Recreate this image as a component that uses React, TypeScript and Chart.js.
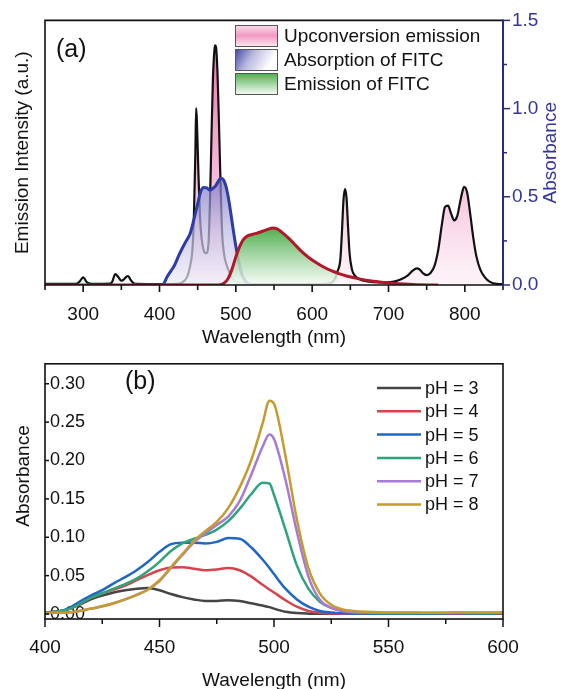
import React, { useEffect, useRef } from 'react';
import { Chart, registerables } from 'chart.js';

Chart.register(...registerables);

const FONT = "'Liberation Sans', Arial, Helvetica, sans-serif";
const NAVY = '#2a2a85';
const NAVY_TEXT = '#34349a';

// ---------------- Panel (a) data ----------------
const emissionWavelength = [250, 290, 295, 300, 305, 312, 335, 338, 342, 346, 350, 353, 356, 359, 362, 366, 372, 400, 420, 430, 436, 440, 443, 445, 447, 448, 449, 451, 453, 455, 458, 461, 464, 466, 468, 470, 472, 473, 474, 476, 478, 480, 482, 485, 488, 492, 496, 500, 510, 540, 600, 620, 628, 633, 637, 639, 641, 643, 645, 647, 649, 652, 656, 662, 672, 690, 705, 715, 725, 732, 737, 741, 745, 750, 755, 760, 765, 770, 774, 778, 782, 786, 790, 795, 799, 803, 807, 811, 815, 820, 826, 833, 842, 850];
const emissionIntensity = [0.004, 0.004, 0.012, 0.029, 0.01, 0.004, 0.005, 0.012, 0.041, 0.03, 0.016, 0.02, 0.03, 0.034, 0.02, 0.007, 0.004, 0.003, 0.004, 0.01, 0.03, 0.07, 0.13, 0.25, 0.5, 0.669, 0.62, 0.42, 0.26, 0.18, 0.13, 0.12, 0.15, 0.3, 0.55, 0.78, 0.89, 0.906, 0.9, 0.8, 0.6, 0.38, 0.2, 0.11, 0.075, 0.045, 0.025, 0.012, 0.005, 0.003, 0.003, 0.005, 0.015, 0.05, 0.1, 0.2, 0.32, 0.3625, 0.33, 0.22, 0.12, 0.06, 0.035, 0.022, 0.014, 0.01, 0.012, 0.02, 0.035, 0.055, 0.0625, 0.058, 0.045, 0.0375, 0.045, 0.07, 0.13, 0.23, 0.295, 0.3, 0.27, 0.244, 0.26, 0.33, 0.371, 0.35, 0.27, 0.18, 0.11, 0.06, 0.03, 0.012, 0.004, 0.003];

const absorptionWavelength = [365, 400, 405, 410, 415, 420, 425, 430, 435, 440, 445, 450, 454, 458, 462, 466, 470, 474, 478, 481, 484, 487, 490, 493, 496, 500, 504, 508, 512, 516, 520, 560, 625];
const absorptionFITC = [0, 0, 0.005, 0.047, 0.08, 0.115, 0.165, 0.21, 0.25, 0.29, 0.37, 0.46, 0.53, 0.553, 0.55, 0.538, 0.548, 0.565, 0.595, 0.605, 0.595, 0.56, 0.5, 0.42, 0.33, 0.22, 0.13, 0.06, 0.025, 0.008, 0.002, 0, 0];

const fitcEmissionWavelength = [250, 478, 485, 490, 495, 500, 505, 510, 515, 520, 527, 535, 542, 548, 554, 560, 568, 576, 585, 595, 605, 615, 625, 635, 645, 660, 680, 700, 720, 740, 765];
const fitcEmission = [0, 0, 0.008, 0.025, 0.06, 0.106, 0.145, 0.172, 0.185, 0.19, 0.195, 0.203, 0.21, 0.215, 0.212, 0.2, 0.18, 0.157, 0.13, 0.105, 0.085, 0.068, 0.054, 0.043, 0.034, 0.024, 0.014, 0.008, 0.004, 0.001, 0];
const GREEN_FILL_START = 478;
const GREEN_FILL_END = 635;

const panelAXLabels = [300, 400, 500, 600, 700, 800];
const panelALegend = ['Upconversion emission', 'Absorption of FITC', 'Emission of FITC'];

// ---------------- Panel (b) data ----------------
const phWavelength = [400, 405, 410, 415, 420, 425, 430, 435, 440, 445, 450, 455, 460, 465, 470, 475, 480, 485, 490, 495, 498, 500, 505, 510, 515, 520, 525, 530, 535, 540, 550, 560, 570, 580, 590, 600];
const absPH3 = [0.002, 0.003, 0.006, 0.012, 0.019, 0.024, 0.028, 0.031, 0.033, 0.034, 0.031, 0.026, 0.022, 0.019, 0.017, 0.017, 0.018, 0.017, 0.014, 0.011, 0.009, 0.007, 0.003, 0.0012, 0.0005, 0.0003, 0.0003, 0.0003, 0.0003, 0.0003, 0.0005, 0.0005, 0.0003, 0.0005, 0.0003, 0.0005];
const absPH4 = [0.002, 0.003, 0.006, 0.013, 0.021, 0.027, 0.032, 0.037, 0.044, 0.051, 0.057, 0.0605, 0.061, 0.059, 0.057, 0.058, 0.06, 0.057, 0.049, 0.038, 0.032, 0.028, 0.018, 0.0095, 0.004, 0.0015, 0.0007, 0.0005, 0.0005, 0.0005, 0.0006, 0.0005, 0.0006, 0.0005, 0.0006, 0.0005];
const absPH5 = [0.002, 0.003, 0.007, 0.016, 0.024, 0.031, 0.04, 0.048, 0.057, 0.068, 0.081, 0.091, 0.093, 0.093, 0.092, 0.094, 0.099, 0.098, 0.087, 0.071, 0.06, 0.052, 0.033, 0.019, 0.0095, 0.004, 0.002, 0.001, 0.0008, 0.0008, 0.0008, 0.0008, 0.0008, 0.001, 0.0008, 0.001];
const absPH6 = [0.002, 0.003, 0.006, 0.013, 0.021, 0.027, 0.033, 0.039, 0.046, 0.056, 0.068, 0.082, 0.092, 0.098, 0.103, 0.11, 0.121, 0.137, 0.156, 0.171, 0.17, 0.155, 0.11, 0.063, 0.033, 0.016, 0.008, 0.004, 0.002, 0.0015, 0.001, 0.001, 0.001, 0.0015, 0.001, 0.0015];
const absPH7 = [0.001, 0.0015, 0.002, 0.004, 0.007, 0.01, 0.014, 0.019, 0.025, 0.032, 0.043, 0.06, 0.077, 0.093, 0.105, 0.116, 0.127, 0.147, 0.181, 0.218, 0.234, 0.228, 0.175, 0.107, 0.049, 0.0185, 0.008, 0.004, 0.0025, 0.002, 0.0015, 0.0015, 0.0015, 0.002, 0.0015, 0.002];
const absPH8 = [0.001, 0.0015, 0.002, 0.004, 0.007, 0.01, 0.014, 0.019, 0.025, 0.032, 0.044, 0.061, 0.078, 0.095, 0.108, 0.12, 0.138, 0.165, 0.2, 0.248, 0.278, 0.274, 0.206, 0.123, 0.06, 0.027, 0.012, 0.006, 0.004, 0.003, 0.002, 0.002, 0.0015, 0.002, 0.002, 0.002];
const phSeries = [absPH3, absPH4, absPH5, absPH6, absPH7, absPH8];
const phLabels = ['pH = 3', 'pH = 4', 'pH = 5', 'pH = 6', 'pH = 7', 'pH = 8'];
const panelBXLabels = [400, 450, 500, 550, 600];

const PH_COLORS = ['#454545', '#d6434b', '#1f67c6', '#2fa47b', '#a57bd6', '#c49b2c'];

const toPoints = (xs: number[], ys: number[]) => xs.map((x, i) => ({ x, y: ys[i] }));

function line(ctx: CanvasRenderingContext2D, x1: number, y1: number, x2: number, y2: number) {
  ctx.beginPath();
  ctx.moveTo(x1, y1);
  ctx.lineTo(x2, y2);
  ctx.stroke();
}

// ---------------- Panel (a) ----------------
const pinkFill = (c: any) => {
  const chart = c.chart;
  const a = chart.chartArea;
  if (!a) return 'rgba(240,160,200,0.5)';
  const g = chart.ctx.createLinearGradient(0, a.top, 0, a.bottom);
  g.addColorStop(0, 'rgba(234,90,155,0.92)');
  g.addColorStop(0.55, 'rgba(243,165,203,0.82)');
  g.addColorStop(1, 'rgba(253,238,246,0.6)');
  return g;
};
const blueFill = (c: any) => {
  const chart = c.chart;
  const a = chart.chartArea;
  if (!a || !chart.scales.y2) return 'rgba(150,150,210,0.6)';
  const top = chart.scales.y2.getPixelForValue(0.62);
  const g = chart.ctx.createLinearGradient(0, top, 0, a.bottom);
  g.addColorStop(0, 'rgba(118,112,195,0.72)');
  g.addColorStop(0.5, 'rgba(190,185,225,0.7)');
  g.addColorStop(1, 'rgba(240,238,249,0.7)');
  return g;
};
const greenFill = (c: any) => {
  const chart = c.chart;
  const a = chart.chartArea;
  if (!a || !chart.scales.y) return 'rgba(120,200,120,0.7)';
  const top = chart.scales.y.getPixelForValue(0.22);
  const g = chart.ctx.createLinearGradient(0, top, 0, a.bottom);
  g.addColorStop(0, 'rgba(66,170,66,0.95)');
  g.addColorStop(0.55, 'rgba(165,214,165,0.88)');
  g.addColorStop(1, 'rgba(246,251,246,0.85)');
  return g;
};

const panelAPlugin = {
  id: 'panelADecor',
  afterDatasetsDraw(chart: any) {
    const { ctx, chartArea: a, scales } = chart;
    ctx.save();
    // frame
    ctx.strokeStyle = '#111';
    ctx.lineWidth = 1.6;
    ctx.beginPath();
    ctx.moveTo(a.right, a.top);
    ctx.lineTo(a.left, a.top);
    ctx.lineTo(a.left, a.bottom);
    ctx.lineTo(a.right, a.bottom);
    ctx.stroke();
    // bottom ticks (outward)
    for (let v = scales.x.min; v <= scales.x.max; v += 50) {
      const px = scales.x.getPixelForValue(v);
      line(ctx, px, a.bottom, px, a.bottom + (v % 100 === 0 ? 7 : 5));
    }
    // right axis
    ctx.strokeStyle = NAVY;
    ctx.lineWidth = 2;
    line(ctx, a.right, a.top - 1, a.right, a.bottom + 1);
    ctx.lineWidth = 1.5;
    for (let v = 0; v <= 1.5001; v += 0.25) {
      const py = scales.y2.getPixelForValue(v);
      const major = Math.abs(v / 0.5 - Math.round(v / 0.5)) < 1e-6;
      line(ctx, a.right, py, a.right + (major ? 7 : 4), py);
    }
    // right title
    ctx.save();
    ctx.translate(551, (a.top + a.bottom) / 2);
    ctx.rotate(-Math.PI / 2);
    ctx.fillStyle = NAVY_TEXT;
    ctx.font = `19px ${FONT}`;
    ctx.textAlign = 'center';
    ctx.textBaseline = 'middle';
    ctx.fillText('Absorbance', 0, 0);
    ctx.restore();
    // (a)
    ctx.fillStyle = '#111';
    ctx.font = `25px ${FONT}`;
    ctx.textAlign = 'left';
    ctx.textBaseline = 'middle';
    ctx.fillText('(a)', 56, 50);
    // legend
    const bx = 235, bw = 42, bh = 21;
    const rows = [25, 49, 73];
    rows.forEach((ry, i) => {
      let g: CanvasGradient;
      if (i === 0) {
        g = ctx.createLinearGradient(0, ry, 0, ry + bh);
        g.addColorStop(0, '#fbe0ec');
        g.addColorStop(0.5, '#f29ac3');
        g.addColorStop(1, '#fbe3ee');
      } else if (i === 1) {
        g = ctx.createLinearGradient(bx, ry + 2, bx + bw * 0.75, ry + bh);
        g.addColorStop(0, '#4848a4');
        g.addColorStop(0.45, '#b8b8de');
        g.addColorStop(1, '#ffffff');
      } else {
        g = ctx.createLinearGradient(0, ry, 0, ry + bh);
        g.addColorStop(0, '#4cae4c');
        g.addColorStop(1, '#f4faf4');
      }
      ctx.fillStyle = g;
      ctx.fillRect(bx, ry, bw, bh);
      ctx.strokeStyle = '#555';
      ctx.lineWidth = 1;
      ctx.strokeRect(bx + 0.5, ry + 0.5, bw, bh);
      ctx.fillStyle = '#111';
      ctx.font = `19px ${FONT}`;
      ctx.textBaseline = 'middle';
      ctx.fillText(panelALegend[i], 284, ry + bh / 2 + 1);
    });
    ctx.restore();
  },
};

function PanelA() {
  const ref = useRef<HTMLCanvasElement>(null);
  useEffect(() => {
    const greenX = fitcEmissionWavelength.filter((x) => x >= GREEN_FILL_START && x <= GREEN_FILL_END);
    const greenY = fitcEmission.filter((_, i) => fitcEmissionWavelength[i] >= GREEN_FILL_START && fitcEmissionWavelength[i] <= GREEN_FILL_END);
    const chart = new Chart(ref.current as HTMLCanvasElement, {
      type: 'line',
      data: {
        datasets: [
          {
            label: 'Emission of FITC',
            data: toPoints(fitcEmissionWavelength, fitcEmission),
            borderColor: '#b3172a',
            borderWidth: 3,
            fill: false,
            pointRadius: 0,
            cubicInterpolationMode: 'monotone',
            yAxisID: 'y',
            order: 1,
          },
          {
            label: 'Emission of FITC fill',
            data: toPoints(greenX, greenY),
            borderColor: 'rgba(0,0,0,0)',
            borderWidth: 0,
            backgroundColor: greenFill,
            fill: 'origin',
            pointRadius: 0,
            cubicInterpolationMode: 'monotone',
            yAxisID: 'y',
            order: 2,
          },
          {
            label: 'Absorption of FITC',
            data: toPoints(absorptionWavelength, absorptionFITC),
            borderColor: '#2d3ca6',
            borderWidth: 3,
            backgroundColor: blueFill,
            fill: 'origin',
            pointRadius: 0,
            cubicInterpolationMode: 'monotone',
            yAxisID: 'y2',
            order: 3,
          },
          {
            label: 'Upconversion emission',
            data: toPoints(emissionWavelength, emissionIntensity),
            borderColor: '#111111',
            borderWidth: 2.2,
            backgroundColor: pinkFill,
            fill: 'origin',
            pointRadius: 0,
            cubicInterpolationMode: 'monotone',
            yAxisID: 'y',
            order: 4,
          },
        ],
      } as any,
      options: {
        responsive: false,
        animation: false,
        events: [],
        layout: { padding: { top: 18, left: 0, right: 0, bottom: 0 } },
        plugins: { legend: { display: false }, tooltip: { enabled: false } },
        scales: {
          x: {
            type: 'linear',
            position: 'bottom',
            min: 250,
            max: 850,
            grid: { display: false, drawTicks: false },
            border: { display: false },
            ticks: {
              stepSize: 50,
              autoSkip: false,
              maxRotation: 0,
              padding: 18,
              color: '#111',
              font: { family: FONT, size: 19 },
              callback: (v: any) => (panelAXLabels.includes(Number(v)) ? String(v) : ''),
            },
            title: {
              display: true,
              text: 'Wavelength (nm)',
              color: '#111',
              font: { family: FONT, size: 19, lineHeight: 1 },
              padding: { top: 0, bottom: 0.5 },
            },
            afterFit: (s: any) => { s.height = 63; },
          },
          y: {
            type: 'linear',
            position: 'left',
            min: 0,
            max: 1,
            grid: { display: false, drawTicks: false },
            border: { display: false },
            ticks: { display: false },
            title: {
              display: true,
              text: 'Emission Intensity (a.u.)',
              color: '#111',
              font: { family: FONT, size: 19, lineHeight: 1 },
              padding: { top: 13.5, bottom: 0 },
            },
            afterFit: (s: any) => { s.width = 45; },
          },
          y2: {
            type: 'linear',
            position: 'right',
            min: 0,
            max: 1.5,
            grid: { display: false, drawTicks: false },
            border: { display: false },
            ticks: {
              stepSize: 0.5,
              padding: 9,
              color: NAVY_TEXT,
              font: { family: FONT, size: 19 },
              callback: (v: any) => Number(v).toFixed(1),
            },
            afterFit: (s: any) => { s.width = 60; },
          },
        },
      } as any,
      plugins: [panelAPlugin],
    });
    return () => chart.destroy();
  }, []);
  return (
    <canvas
      ref={ref}
      width={563}
      height={348}
      style={{ position: 'absolute', left: 0, top: 0, width: 563, height: 348, display: 'block' }}
    />
  );
}

// ---------------- Panel (b) ----------------
const panelBPlugin = {
  id: 'panelBDecor',
  afterDatasetsDraw(chart: any) {
    const { ctx, chartArea: a, scales } = chart;
    ctx.save();
    ctx.strokeStyle = '#111';
    ctx.lineWidth = 1.6;
    ctx.strokeRect(a.left, a.top, a.right - a.left, a.bottom - a.top);
    ctx.lineWidth = 1.5;
    for (let v = scales.x.min; v <= scales.x.max; v += 25) {
      const px = scales.x.getPixelForValue(v);
      line(ctx, px, a.bottom, px, a.bottom + (v % 50 === 0 ? 8 : 5));
    }
    for (let v = 0; v <= 0.3001; v += 0.05) {
      const py = scales.y.getPixelForValue(v);
      line(ctx, a.left, py, a.left + 4, py);
    }
    // y title
    ctx.save();
    ctx.translate(24, 128);
    ctx.rotate(-Math.PI / 2);
    ctx.fillStyle = '#111';
    ctx.font = `19px ${FONT}`;
    ctx.textAlign = 'center';
    ctx.textBaseline = 'middle';
    ctx.fillText('Absorbance', 0, 0);
    ctx.restore();
    ctx.fillStyle = '#111';
    ctx.font = `25px ${FONT}`;
    ctx.textAlign = 'left';
    ctx.textBaseline = 'middle';
    ctx.fillText('(b)', 125, 34);
    // legend
    const rows = [40, 63.3, 86.6, 109.9, 133.2, 156.5];
    chart.data.datasets.forEach((ds: any, i: number) => {
      ctx.strokeStyle = ds.borderColor;
      ctx.lineWidth = 2.5;
      line(ctx, 377, rows[i], 421, rows[i]);
      ctx.fillStyle = '#111';
      ctx.font = `18px ${FONT}`;
      ctx.fillText(ds.label, 425, rows[i] + 1);
    });
    ctx.restore();
  },
};

function PanelB() {
  const ref = useRef<HTMLCanvasElement>(null);
  useEffect(() => {
    const chart = new Chart(ref.current as HTMLCanvasElement, {
      type: 'line',
      data: {
        datasets: phSeries.map((ys, i) => ({
          label: phLabels[i],
          data: toPoints(phWavelength, ys),
          borderColor: PH_COLORS[i],
          borderWidth: 2.5,
          pointRadius: 0,
          fill: false,
          cubicInterpolationMode: 'monotone',
          order: 10 - i,
        })),
      } as any,
      options: {
        responsive: false,
        animation: false,
        events: [],
        layout: { padding: { top: 4, left: 0, right: 60, bottom: 0 } },
        plugins: { legend: { display: false }, tooltip: { enabled: false } },
        scales: {
          x: {
            type: 'linear',
            position: 'bottom',
            min: 400,
            max: 600,
            grid: { display: false, drawTicks: false },
            border: { display: false },
            ticks: {
              stepSize: 25,
              autoSkip: false,
              maxRotation: 0,
              padding: 17,
              color: '#111',
              font: { family: FONT, size: 19 },
              callback: (v: any) => (panelBXLabels.includes(Number(v)) ? String(v) : ''),
            },
            title: {
              display: true,
              text: 'Wavelength (nm)',
              color: '#111',
              font: { family: FONT, size: 19, lineHeight: 1 },
              padding: { top: 0, bottom: -1.5 },
            },
            afterFit: (s: any) => { s.height = 70; },
          },
          y: {
            type: 'linear',
            position: 'left',
            min: -0.0065,
            max: 0.326,
            grid: { display: false, drawTicks: false },
            border: { display: false },
            ticks: {
              stepSize: 0.05,
              includeBounds: false,
              mirror: true,
              padding: 5,
              color: '#111',
              font: { family: FONT, size: 18 },
              callback: (v: any) => Number(v).toFixed(2),
            },
            title: { display: false },
            afterFit: (s: any) => { s.width = 45; },
          },
        },
      } as any,
      plugins: [panelBPlugin],
    });
    return () => chart.destroy();
  }, []);
  return (
    <canvas
      ref={ref}
      width={563}
      height={341}
      style={{ position: 'absolute', left: 0, top: 348, width: 563, height: 341, display: 'block' }}
    />
  );
}

export default function App() {
  return (
    <div style={{ position: 'fixed', left: 0, top: 0, width: 563, height: 689, background: '#fff', overflow: 'hidden' }}>
      <PanelA />
      <PanelB />
    </div>
  );
}
